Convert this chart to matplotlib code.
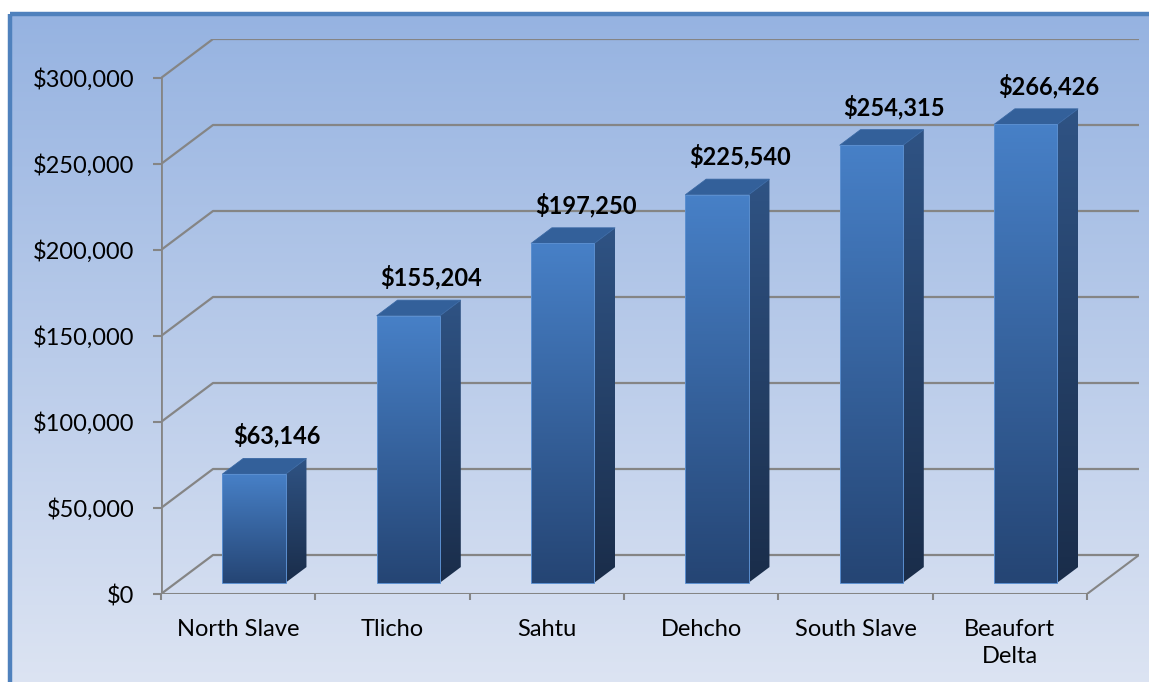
import numpy as np
import matplotlib
matplotlib.use("Agg")
import matplotlib.pyplot as plt
from matplotlib.patches import Polygon, Rectangle
from matplotlib.colors import to_rgb

# chart data
regions = ["North Slave", "Tlicho", "Sahtu", "Dehcho", "South Slave", "Beaufort\nDelta"]
values = [63146, 155204, 197250, 225540, 254315, 266426]
y_ticks = [0, 50000, 100000, 150000, 200000, 250000, 300000]

plt.rcParams["font.family"] = ["Lato", "DejaVu Sans"]

W, H = 1149, 682
fig = plt.figure(figsize=(W / 100, H / 100), dpi=100)
fig.patch.set_facecolor("white")

# background panel with vertical gradient and blue frame
bg = fig.add_axes([0, 0, 1, 1], zorder=0)
bg.axis("off")
c_top, c_bot = np.array(to_rgb("#96B3E1")), np.array(to_rgb("#DEE5F3"))
t = np.linspace(0, 1, 256)[:, None, None]
grad = c_top * (1 - t) + c_bot * t
bg.imshow(grad, extent=[10, W + 20, H + 20, 14], aspect="auto", zorder=0)
bg.add_patch(Rectangle((10, 14), W + 10, H + 10, fill=False,
                       edgecolor="#4F81BD", linewidth=3.2, zorder=1))
bg.set_xlim(0, W)
bg.set_ylim(H, 0)

# main chart axes (front x-axis from 0..6, depth offset DX, DY)
DX, DY = 0.337, 22674
n = len(regions)
ax = fig.add_axes([161 / W, 88 / H, (1139 - 161) / W, (594 - 39) / H], zorder=1)
ax.patch.set_visible(False)
for s in ax.spines.values():
    s.set_visible(False)

grid_c = "#858585"


def proj(x, y, d):
    return x + d * DX, y + d * DY


# wall gridlines
for v in y_ticks:
    ax.plot([0, DX, n + DX], [v, v + DY, v + DY], color=grid_c, lw=1.6,
            zorder=1, solid_capstyle="butt")

# floor and front axis
ax.plot([0, n], [0, 0], color=grid_c, lw=2.2, zorder=1)
ax.plot([n, n + DX], [0, DY], color=grid_c, lw=1.5, zorder=1)
ax.plot([0, 0], [0, y_ticks[-1]], color=grid_c, lw=2.0, zorder=1)

# bars
front_top, front_bot = np.array(to_rgb("#4780C7")), np.array(to_rgb("#254574"))
side_top, side_bot = np.array(to_rgb("#2F5384")), np.array(to_rgb("#1A2D4A"))
top_c = "#33609A"
bx0, bx1 = 0.30, 0.71
d0, d1 = 0.29, 0.69
tt = np.linspace(0, 1, 128)[:, None, None]

for i, v in enumerate(values):
    x0, x1 = i + bx0, i + bx1
    # front face
    fx0, fy0 = proj(x0, 0, d0)
    fx1, fy1 = proj(x1, v, d0)
    ax.imshow(front_top * (1 - tt) + front_bot * tt, extent=[fx0, fx1, fy0, fy1],
              origin="upper", aspect="auto", zorder=3)
    ax.add_patch(Rectangle((fx0, fy0), fx1 - fx0, fy1 - fy0, fill=False,
                           edgecolor="#5B8FD0", lw=0.7, zorder=4))
    # side face
    side = [proj(x1, 0, d0), proj(x1, 0, d1), proj(x1, v, d1), proj(x1, v, d0)]
    poly = Polygon(side, closed=True, facecolor="none", edgecolor="none", zorder=3)
    ax.add_patch(poly)
    sx0, sy0 = proj(x1, 0, d0)
    sx1, sy1 = proj(x1, v, d1)
    im = ax.imshow(side_top * (1 - tt) + side_bot * tt, extent=[sx0, sx1, sy0, sy1],
                   origin="upper", aspect="auto", zorder=3)
    im.set_clip_path(poly)
    # top face
    top = [proj(x0, v, d0), proj(x1, v, d0), proj(x1, v, d1), proj(x0, v, d1)]
    ax.add_patch(Polygon(top, closed=True, facecolor=top_c, edgecolor="#3A68A3",
                         lw=0.6, zorder=3))
    # value label
    ly = proj(i + 0.5, v, d1)[1]
    lx = proj(i + 0.5, v, 0.75)[0]
    ax.annotate(f"${v:,}", (lx, ly), xytext=(0, 10.5), textcoords="offset points",
                ha="center", va="baseline", fontsize=17, fontweight="bold",
                color="black", zorder=5)

ax.set_xlim(0, n + DX)
ax.set_ylim(0, y_ticks[-1] + DY)
ax.set_aspect("auto")

# ticks
ax.set_yticks(y_ticks)
ax.set_yticklabels([f"${v:,}" for v in y_ticks])
ax.tick_params(axis="y", length=6, width=1.5, color=grid_c, pad=13,
               labelsize=17, labelcolor="black")
ax.set_xticks(range(n + 1))
ax.set_xticklabels([])
ax.tick_params(axis="x", which="major", length=4.5, width=1.5, color=grid_c)
ax.set_xticks(np.arange(n) + 0.5, minor=True)
ax.set_xticklabels(regions, minor=True, linespacing=1.37)
ax.tick_params(axis="x", which="minor", length=0, pad=18, labelsize=17,
               labelcolor="black")

fig.savefig("out.png", dpi=100)
